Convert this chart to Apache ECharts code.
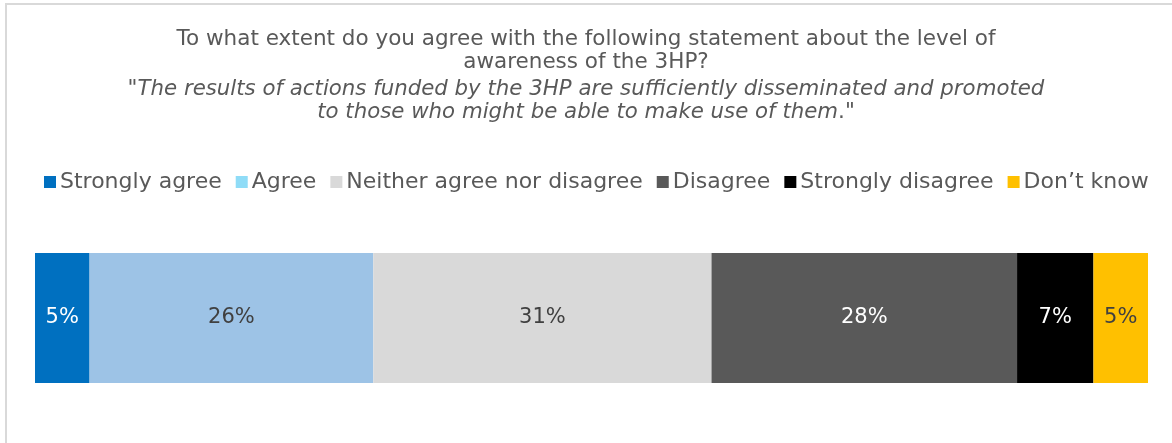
<!DOCTYPE html>
<html>
<head>
<meta charset="utf-8">
<script src="https://cdn.jsdelivr.net/npm/echarts@6/dist/echarts.min.js"></script>
<style>
  html, body { margin: 0; padding: 0; background: #fff; }
  #chart { width: 1172px; height: 443px; }
</style>
</head>
<body>
<div id="chart"></div>
<script>
// Survey answers, shares of respondents (%)
const categories = ['Strongly agree', 'Agree', 'Neither agree nor disagree', 'Disagree', 'Strongly disagree', 'Don\u2019t know'];
const values = [5, 26, 31, 28, 7, 5];
const barColors = ['#0070c0', '#9dc3e6', '#d9d9d9', '#595959', '#000000', '#ffc000'];
const legendColors = ['#0070c0', '#8fdcf7', '#d9d9d9', '#595959', '#000000', '#ffc000'];
const labelColors = ['#ffffff', '#404040', '#404040', '#ffffff', '#ffffff', '#404040'];

const total = values.reduce((a, b) => a + b, 0);
const FONT = 'DejaVu Sans, Verdana, sans-serif';

const chart = echarts.init(document.getElementById('chart'), null, { renderer: 'canvas' });

const series = categories.map((name, i) => ({
  name: name,
  type: 'bar',
  stack: 'total',
  barWidth: 130,
  data: [values[i]],
  itemStyle: { color: barColors[i] },
  label: {
    show: true,
    position: 'inside',
    formatter: '{c}%',
    color: labelColors[i],
    fontFamily: FONT,
    fontSize: 21
  },
  emphasis: { disabled: true }
}));

const titleStyle = { fontFamily: FONT, fontSize: 21.5, fontWeight: 'normal', color: '#595959', lineHeight: 23 };

chart.setOption({
  animation: false,
  backgroundColor: '#ffffff',
  graphic: [{
    type: 'rect',
    shape: { x: 6, y: 4, width: 1300, height: 600 },
    style: { fill: 'none', stroke: '#d9d9d9', lineWidth: 2 },
    silent: true,
    z: -1
  }],
  title: [{
    left: 'center',
    top: 28,
    padding: 0,
    text: 'To what extent do you agree with the following statement about the level of\nawareness of the 3HP?',
    textStyle: titleStyle
  }, {
    left: 'center',
    top: 78,
    padding: 0,
    text: '{n|"}{i|The results of actions funded by the 3HP are sufficiently disseminated and promoted}\n' +
          '{i|to those who might be able to make use of them}{n|."}',
    textStyle: {
      fontWeight: 'normal',
      rich: {
        n: Object.assign({}, titleStyle),
        i: Object.assign({}, titleStyle, { fontStyle: 'italic', fontSize: 21.3 })
      }
    }
  }],
  legend: {
    top: 171,
    left: 44,
    padding: 0,
    icon: 'rect',
    itemWidth: 12,
    itemHeight: 12,
    itemGap: 14,
    selectedMode: false,
    textStyle: { color: '#595959', fontFamily: FONT, fontSize: 22, padding: [0, 0, 0, -1] },
    data: categories.map((name, i) => ({ name: name, itemStyle: { color: legendColors[i] } }))
  },
  grid: { left: 35, right: 24, top: 253, height: 130, containLabel: false },
  xAxis: {
    type: 'value',
    min: 0,
    max: total,
    show: false
  },
  yAxis: {
    type: 'category',
    data: [''],
    show: false
  },
  series: series
});
</script>
</body>
</html>
